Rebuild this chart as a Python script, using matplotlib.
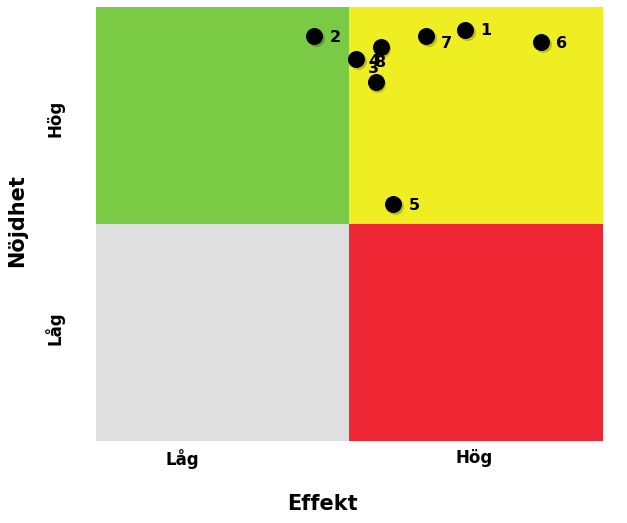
import numpy as np
import matplotlib
matplotlib.use('Agg')
import matplotlib.pyplot as plt
from matplotlib.patches import Rectangle

# quadrant chart: Effekt (x) vs Nöjdhet (y), scale 0-10
labels = ['1', '2', '3', '4', '5', '6', '7', '8']
effekt = [7.28, 4.30, 5.52, 5.13, 5.86, 8.78, 6.51, 5.62]
nojdhet = [9.47, 9.34, 8.27, 8.80, 5.46, 9.19, 9.34, 9.08]
# label offsets in points (dx, dy)
offsets = [(11, 0), (11, -1), (-2, 10), (9, -2), (11, -1), (11, -1), (11, -6), (0, -11)]

xticks = [1.7, 7.45]
yticks = [2.6, 7.44]
ticklabels = ['Låg', 'Hög']

fig = plt.figure(figsize=(6.27, 5.23), dpi=100)
ax = fig.add_axes([0.1531, 0.1568, 0.8086, 0.8298])

ax.add_patch(Rectangle((0, 5), 5, 5, color='#7aca46', lw=0, zorder=0))
ax.add_patch(Rectangle((5, 5), 5, 5, color='#eeee22', lw=0, zorder=0))
ax.add_patch(Rectangle((0, 0), 5, 5, color='#dfdfdf', lw=0, zorder=0))
ax.add_patch(Rectangle((5, 0), 5, 5, color='#ee2533', lw=0, zorder=0))

ax.scatter([x + 0.03 for x in effekt], [y - 0.05 for y in nojdhet], s=150, color='#000000', alpha=0.2, zorder=2, lw=0)
ax.scatter(effekt, nojdhet, s=150, color='black', zorder=3, lw=0)
for lab, x, y, (dx, dy) in zip(labels, effekt, nojdhet, offsets):
	ax.annotate(lab, (x, y), xytext=(dx, dy), textcoords='offset points',
		ha='left' if dx > 6 else 'center', va='center', fontsize=11.5, fontweight='bold', zorder=4)

ax.set_xlim(0, 10)
ax.set_ylim(0, 10)
for s in ax.spines.values():
	s.set_visible(False)
ax.set_xticks(xticks)
ax.set_xticklabels(ticklabels, fontsize=12, fontweight='bold')
ax.set_yticks(yticks)
ax.set_yticklabels(ticklabels, fontsize=12, fontweight='bold', rotation=90, va='center')
ax.tick_params(axis='x', length=0, pad=6)
ax.tick_params(axis='y', length=0, pad=23)
fig.text(0.514, 0.036, 'Effekt', fontsize=15, fontweight='bold', ha='center', va='center')
fig.text(0.027, 0.579, 'Nöjdhet', fontsize=15, fontweight='bold', ha='center', va='center', rotation=90)

plt.savefig('out.png', dpi=100)
